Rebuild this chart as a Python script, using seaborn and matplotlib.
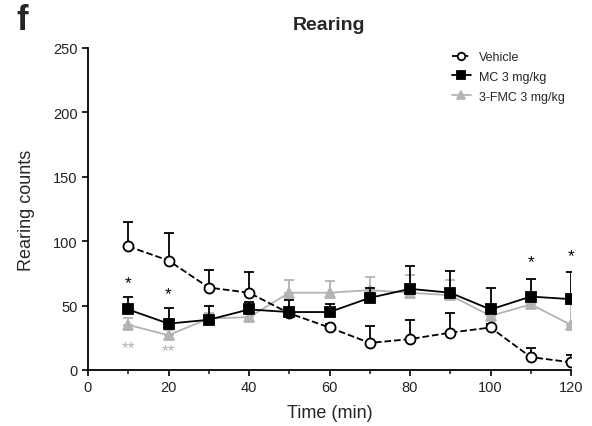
import numpy as np
import pandas as pd
import matplotlib
matplotlib.use("Agg")
import matplotlib.pyplot as plt
import seaborn as sns

time_min = [10, 20, 30, 40, 50, 60, 70, 80, 90, 100, 110, 120]

vehicle_mean = [96, 85, 64, 60, 44, 33, 21, 24, 29, 33, 10, 6]
vehicle_sem = [19, 21, 14, 16, 3, 3, 13, 15, 15, 3, 7, 6]

mc_mean = [47, 36, 39, 47, 45, 45, 56, 63, 60, 47, 57, 55]
mc_sem = [10, 12, 11, 6, 9, 6, 8, 18, 17, 17, 14, 21]

fmc_mean = [35, 27, 40, 41, 60, 60, 62, 60, 58, 42, 51, 35]
fmc_sem = [5, 4, 4, 4, 10, 9, 10, 14, 12, 4, 4, 16]

group_names = ["Vehicle", "MC 3 mg/kg", "3-FMC 3 mg/kg"]

# significance marks: (time, y, text, group index)
sig_marks = [
    (10, 68, "*", 1), (20, 59, "*", 1), (110, 84, "*", 1), (120, 89, "*", 1),
    (10, 17, "**", 2), (20, 15, "**", 2),
]

sns.set_style("ticks")
plt.rcParams["font.family"] = ["Liberation Sans", "DejaVu Sans"]

fig = plt.figure(figsize=(5.92, 4.27), dpi=100)
ax = fig.add_axes([88 / 592, 1 - 371 / 427, (571 - 88) / 592, (371 - 49) / 427])

grey = "#b3b3b3"
styles = [
    dict(color="black", marker="o", mfc="white", ls="--", ms=7.2, z=3),
    dict(color="black", marker="s", mfc="black", ls="-", ms=7.5, z=4),
    dict(color=grey, marker="^", mfc=grey, ls="-", ms=7.5, z=2),
]

means = [vehicle_mean, mc_mean, fmc_mean]
sems = [vehicle_sem, mc_sem, fmc_sem]

for name, m, s, st in zip(group_names, means, sems, styles):
    df = pd.DataFrame({"time": time_min, "value": m})
    ax.errorbar(time_min, m, yerr=[np.zeros(len(m)), s], fmt="none",
                ecolor=st["color"], elinewidth=1.3, capsize=3.8, capthick=1.3,
                zorder=st["z"] - 0.5)
    sns.lineplot(data=df, x="time", y="value", ax=ax, color=st["color"],
                 linestyle=st["ls"], linewidth=1.3, marker=st["marker"],
                 markersize=st["ms"], markerfacecolor=st["mfc"],
                 markeredgecolor=st["color"], markeredgewidth=1.3,
                 label=name, zorder=st["z"])

for t, y, txt, g in sig_marks:
    ax.text(t, y, txt, ha="center", va="center", fontsize=12.5,
            color=styles[g]["color"], zorder=5)

ax.set_xlim(0, 120)
ax.set_ylim(0, 250)
ax.set_xticks(range(0, 121, 20))
ax.set_xticks(range(0, 121, 10), minor=True)
ax.set_yticks(range(0, 251, 50))
ax.tick_params(axis="both", which="major", labelsize=10.5, length=4, width=1.2,
               colors="black", labelcolor="#222222")
ax.tick_params(axis="x", which="minor", length=3, width=1.2)
for sp in ["left", "bottom"]:
    ax.spines[sp].set_linewidth(1.3)
    ax.spines[sp].set_color("black")
sns.despine(ax=ax)

ax.set_xlabel("Time (min)", fontsize=13, labelpad=7)
ax.set_ylabel("Rearing counts", fontsize=13, labelpad=13)
ax.set_title("Rearing", fontsize=14, fontweight="bold", pad=13.5)
fig.text(22 / 592, 1 - 20 / 427, "f", fontsize=25, fontweight="bold",
         ha="center", va="center")

leg = ax.legend(loc="upper left", bbox_to_anchor=(452 / 592, 1 - 52 / 427),
                bbox_transform=fig.transFigure, frameon=False,
                borderpad=0, borderaxespad=0,
                fontsize=9, handlelength=1.5, handletextpad=0.65,
                labelspacing=0.62, markerscale=0.75)

fig.savefig("out.png", dpi=100)
